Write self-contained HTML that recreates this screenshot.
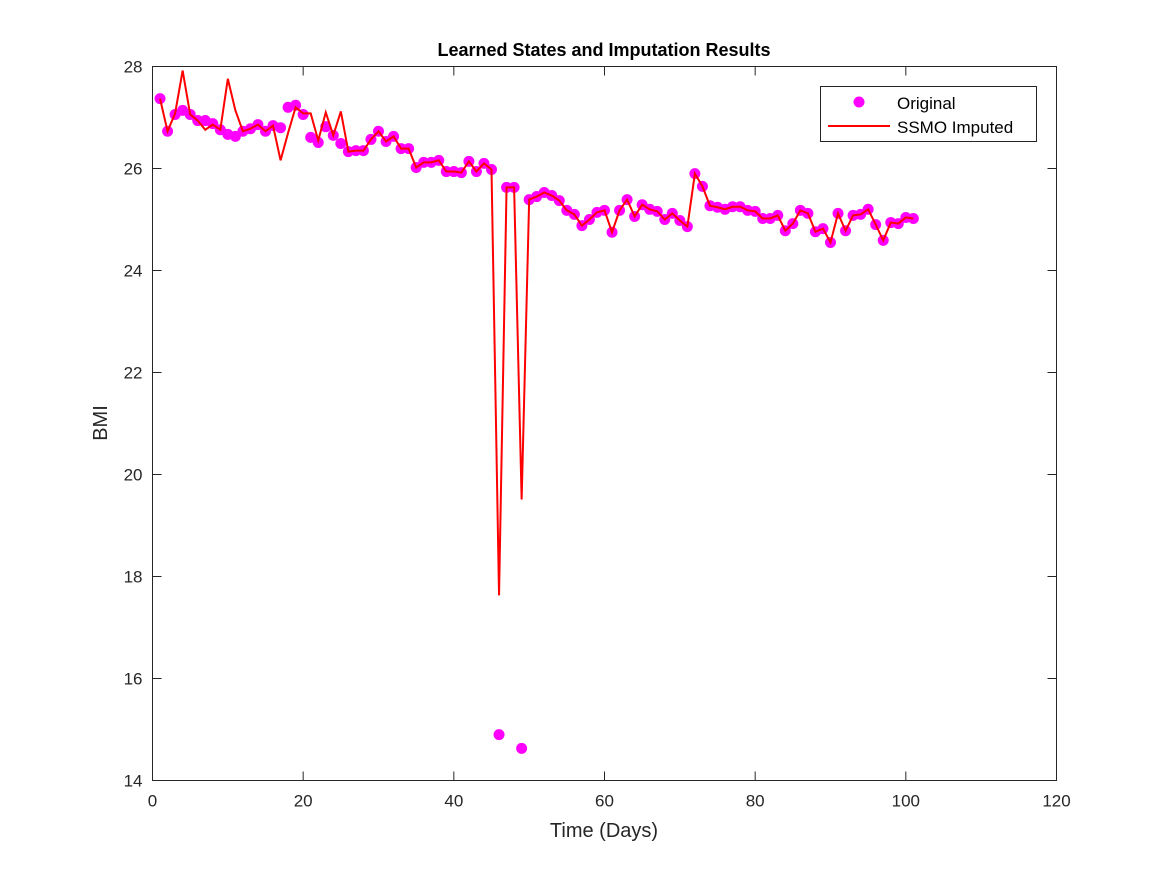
<!DOCTYPE html>
<html><head><meta charset="utf-8"><style>
html,body{margin:0;padding:0;background:#fff;}
svg{display:block;font-family:"Liberation Sans",Arial,sans-serif;}
</style></head><body>
<svg id="chart" width="1167" height="875" viewBox="0 0 1167 875" xmlns="http://www.w3.org/2000/svg">
<rect width="1167" height="875" fill="#fff"/>
<text x="604" y="56" text-anchor="middle" font-size="18" font-weight="bold" fill="#000">Learned States and Imputation Results</text>
<g id="axes"></g>
<g id="marks"></g>
<text x="604" y="837" text-anchor="middle" font-size="20" fill="#262626">Time (Days)</text>
<text transform="translate(107,423) rotate(-90)" text-anchor="middle" font-size="20" fill="#262626">BMI</text>
<g>
<rect x="820.5" y="86.5" width="216" height="55" fill="#fff" stroke="#262626" stroke-width="1"/>
<circle cx="859" cy="102" r="5.5" fill="#ff00ff"/>
<text x="897" y="109" font-size="17" fill="#000">Original</text>
<line x1="828" y1="126" x2="890" y2="126" stroke="#ff0000" stroke-width="2"/>
<text x="897" y="133" font-size="17" fill="#000">SSMO Imputed</text>
</g>
</svg>
<script>
const days = Array.from({length:101},(_,i)=>i+1);
const original = [27.37,26.73,27.06,27.14,27.06,26.94,26.94,26.88,26.76,26.67,26.63,26.73,26.78,26.86,26.73,26.84,26.80,27.2,27.24,27.06,26.61,26.51,26.82,26.65,26.49,26.33,26.35,26.35,26.57,26.73,26.53,26.63,26.39,26.39,26.02,26.12,26.12,26.16,25.94,25.94,25.92,26.14,25.94,26.1,25.98,14.9,25.63,25.63,14.63,25.39,25.45,25.53,25.47,25.37,25.18,25.1,24.88,25.0,25.14,25.18,24.75,25.18,25.39,25.06,25.29,25.2,25.16,25.0,25.12,24.98,24.86,25.9,25.65,25.27,25.24,25.2,25.25,25.25,25.18,25.16,25.02,25.02,25.08,24.78,24.92,25.18,25.12,24.76,24.82,24.55,25.12,24.78,25.08,25.1,25.2,24.9,24.59,24.94,24.92,25.04,25.02];
const imputed = [27.37,26.73,27.08,27.92,27.06,26.94,26.76,26.86,26.76,27.76,27.14,26.73,26.78,26.86,26.73,26.84,26.16,26.7,27.2,27.08,27.08,26.55,27.1,26.65,27.12,26.33,26.35,26.35,26.57,26.73,26.53,26.63,26.39,26.39,26.02,26.12,26.12,26.16,25.94,25.94,25.92,26.14,25.94,26.1,25.98,17.63,25.63,25.63,19.51,25.39,25.45,25.53,25.47,25.37,25.18,25.1,24.88,25.0,25.14,25.18,24.75,25.18,25.39,25.06,25.29,25.2,25.16,25.0,25.12,24.98,24.86,25.9,25.65,25.27,25.24,25.2,25.25,25.25,25.18,25.16,25.02,25.02,25.08,24.78,24.92,25.18,25.12,24.76,24.82,24.55,25.12,24.78,25.08,25.1,25.2,24.9,24.59,24.94,24.92,25.04,25.02];
const xTicks = [0,20,40,60,80,100,120];
const yTicks = [14,16,18,20,22,24,26,28];

const L=152.5,R=1056.5,T=66.5,B=780.5;
const xS=v=>L+(v-0)/(120-0)*(R-L);
const yS=v=>B-(v-14)/(28-14)*(B-T);
const NS='http://www.w3.org/2000/svg';
function mk(tag,attrs,parent){const e=document.createElementNS(NS,tag);for(const k in attrs)e.setAttribute(k,attrs[k]);parent.appendChild(e);return e;}
const axes=document.getElementById('axes'), marks=document.getElementById('marks');
const frame=mk('rect',{x:L,y:T,width:R-L,height:B-T,fill:'none',stroke:'#262626','stroke-width':1},axes);


xTicks.forEach(t=>{
  const x=xS(t);
  const a=mk('line',{x1:x,y1:B,x2:x,y2:B-9,stroke:'#262626'},axes);
  
  
  const b=mk('line',{x1:x,y1:T,x2:x,y2:T+9,stroke:'#262626'},axes);
  
  
  const tx=mk('text',{x:x,y:B+26,'text-anchor':'middle','font-size':17,fill:'#262626'},axes);
  tx.textContent=t;
  
  
});
yTicks.forEach(t=>{
  const y=yS(t);
  const a=mk('line',{x1:L,y1:y,x2:L+9,y2:y,stroke:'#262626'},axes);
  
  
  const b=mk('line',{x1:R,y1:y,x2:R-9,y2:y,stroke:'#262626'},axes);
  
  
  const tx=mk('text',{x:L-10,y:y+6,'text-anchor':'end','font-size':17,fill:'#262626'},axes);
  tx.textContent=t;
  
  
});
original.forEach((v,i)=>{
  const c=mk('circle',{cx:xS(days[i]),cy:yS(v),r:5.5,fill:'#ff00ff'},marks);
  
  
});
const pl=mk('polyline',{points:imputed.map((v,i)=>xS(days[i])+','+yS(v)).join(' '),fill:'none',stroke:'#ff0000','stroke-width':2,'stroke-linejoin':'miter'},marks);


</script>
</body></html>
